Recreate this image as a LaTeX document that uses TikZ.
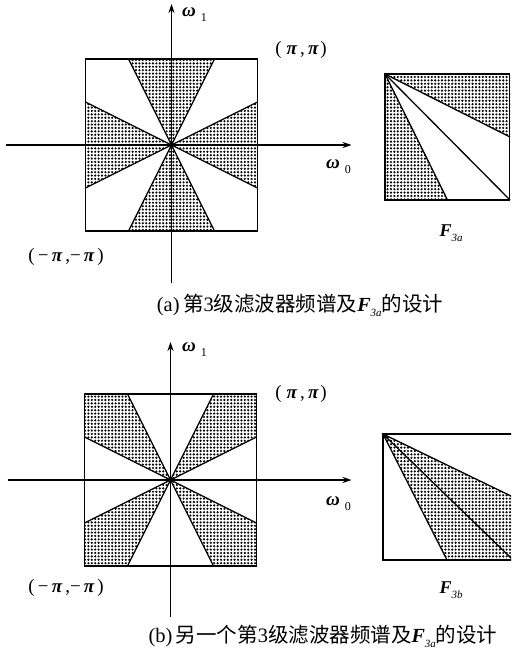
\documentclass[tikz,border=0pt]{standalone}
\usepackage{fontspec}
\setmainfont{Liberation Serif}
\newfontfamily\cjk{Noto Sans CJK SC}
\usetikzlibrary{arrows.meta,patterns.meta}
\tikzset{
  frame/.style={line width=1.8pt},
  ray/.style={line width=1.3pt},
  axis/.style={line width=1.2pt,-{Stealth[length=9pt,width=6pt]}},
  dotfill/.style={pattern={Dots[distance=3.4pt,radius=1.2pt]}},
  lbl/.style={inner sep=0pt,font=\fontsize{19}{19}\selectfont},
  captext/.style={inner sep=0pt,font=\fontsize{20.5}{20.5}\selectfont},
}
\newcommand{\wlab}[1]{{\fontsize{19}{19}\selectfont\bfseries\itshape ω}\hspace{5pt}\raisebox{-5pt}{\fontsize{12}{12}\selectfont #1}}
\newcommand{\Flab}[2]{{\fontsize{#1}{#1}\selectfont\bfseries\itshape F}\raisebox{-5pt}{\fontsize{11}{11}\selectfont\itshape #2}}
\newcommand{\ppi}{{\bfseries\itshape π}}
\begin{document}
\begin{tikzpicture}[x=1pt,y=-1pt]
\useasboundingbox (0,0) rectangle (511,655);
\fill[white] (0,0) rectangle (511,655);
\clip (0,0) rectangle (511,655);

% ---------- (a) spectrum ----------
\begin{scope}[shift={(171.5,145)}]
  \fill[dotfill] (0,0) -- (-43,-86) -- (43,-86) -- cycle;
  \fill[dotfill] (0,0) -- (-43,86) -- (43,86) -- cycle;
  \fill[dotfill] (0,0) -- (-86,-43) -- (-86,43) -- cycle;
  \fill[dotfill] (0,0) -- (86,-43) -- (86,43) -- cycle;
  \draw[ray] (-43,86) -- (43,-86);
  \draw[ray] (43,86) -- (-43,-86);
  \draw[ray] (-86,43) -- (86,-43);
  \draw[ray] (-86,-43) -- (86,43);
  \draw[frame] (-86,-86) rectangle (86,86);
  \coordinate (aL) at (-166,0); \coordinate (aR) at (180,0);
  \coordinate (aB) at (0,138); \coordinate (aT) at (0,-141);
  \draw[axis] (aL) -- (aR);
  \draw[axis] (aB) -- (aT);
\end{scope}
\node[lbl,anchor=west] (w1a) at (182,15) {\wlab{1}};
\node[lbl,anchor=west] (w0a) at (326,167) {\wlab{0}};
\node[lbl] (ppa) at (301,50) {(\hspace{5pt}\ppi\,,\,\ppi\hspace{2pt})};
\node[lbl] (mma) at (66,257) {(\,−\,\ppi\,,−\,\ppi\hspace{3pt})};

% ---------- F3a ----------
\fill[dotfill] (385,74) -- (510,74) -- (510,137) -- cycle;
\fill[dotfill] (385,74) -- (447.5,200) -- (385,200) -- cycle;
\draw[ray] (385,74) -- (510,137);
\draw[ray] (385,74) -- (510,200);
\draw[ray] (385,74) -- (447.5,200);
\draw[frame] (385,74) rectangle (509.5,200);
\node[inner sep=0pt] (f3a) at (451,233) {\Flab{18}{3a}};

\node[captext] (capa) at (300,305) {(a)\,{\cjk 第}3{\cjk 级滤波器频谱及}\Flab{20}{3a}{\cjk 的设计}};

% ---------- (b) spectrum ----------
\begin{scope}[shift={(170.5,480)}]
  \fill[dotfill] (0,0) -- (43,-86) -- (86,-86) -- (86,-43) -- cycle;
  \fill[dotfill] (0,0) -- (-43,-86) -- (-86,-86) -- (-86,-43) -- cycle;
  \fill[dotfill] (0,0) -- (43,86) -- (86,86) -- (86,43) -- cycle;
  \fill[dotfill] (0,0) -- (-43,86) -- (-86,86) -- (-86,43) -- cycle;
  \draw[ray] (-43,86) -- (43,-86);
  \draw[ray] (43,86) -- (-43,-86);
  \draw[ray] (-86,43) -- (86,-43);
  \draw[ray] (-86,-43) -- (86,43);
  \draw[frame] (-86,-86) rectangle (86,86);
  \coordinate (bL) at (-163,0); \coordinate (bR) at (181,0);
  \coordinate (bB) at (0,137); \coordinate (bT) at (0,-138);
  \draw[axis] (bL) -- (bR);
  \draw[axis] (bB) -- (bT);
\end{scope}
\node[lbl,anchor=west] (w1b) at (182,350) {\wlab{1}};
\node[lbl,anchor=west] (w0b) at (326,504) {\wlab{0}};
\node[lbl] (ppb) at (301,394) {(\hspace{5pt}\ppi\,,\,\ppi\hspace{2pt})};
\node[lbl] (mmb) at (66,588) {(\,−\,\ppi\,,−\,\ppi\hspace{3pt})};

% ---------- F3b ----------
\fill[dotfill] (383,434) -- (513,497) -- (513,560) -- (447,560) -- cycle;
\draw[ray] (383,434) -- (513,497);
\draw[ray] (383,434) -- (513,560);
\draw[ray] (383,434) -- (447,560);
\draw[frame] (383,434) rectangle (513,560);
\node[inner sep=0pt] (f3b) at (451,590) {\Flab{18}{3b}};

\node[captext] (capb) at (323,636) {(b)\,{\cjk 另一个第}3{\cjk 级滤波器频谱及}\Flab{20}{3a}{\cjk 的设计}};
\end{tikzpicture}
\end{document}
